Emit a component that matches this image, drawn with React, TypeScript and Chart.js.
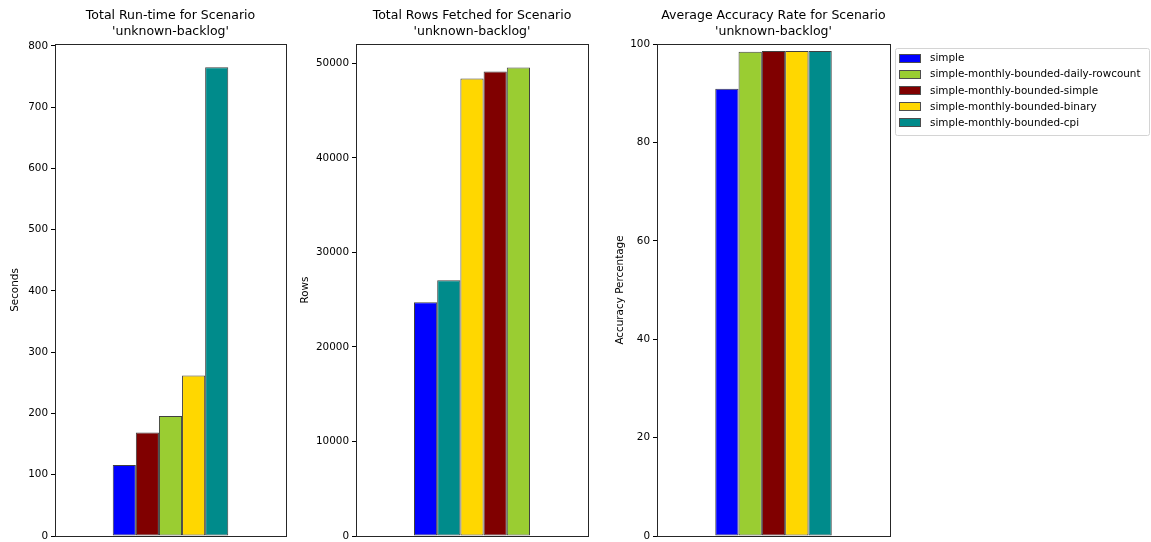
import React, { useEffect, useRef } from 'react';
import { Chart, registerables } from 'chart.js';

Chart.register(...registerables);

const FONT = '"DejaVu Sans", sans-serif';

// Legend/method names and colours
const methods = [
  'simple',
  'simple-monthly-bounded-daily-rowcount',
  'simple-monthly-bounded-simple',
  'simple-monthly-bounded-binary',
  'simple-monthly-bounded-cpi',
];
const methodColors = ['#0000ff', '#9acd32', '#800000', '#ffd700', '#008b8b'];

// Values per method (same order as methods)
const runtimeSeconds = [116, 196, 169, 262, 765];
const rowsFetched = [24740, 49580, 49150, 48410, 27060];
const accuracyPct = [90.9, 98.4, 98.6, 98.6, 98.6];

// Tick labels
const runtimeTicks = [0, 100, 200, 300, 400, 500, 600, 700, 800];
const rowsTicks = [0, 10000, 20000, 30000, 40000, 50000];
const accuracyTicks = [0, 20, 40, 60, 80, 100];

const scenario = "'unknown-backlog'";

const framePlugin = {
  id: 'frameBox',
  afterDatasetsDraw(chart: any) {
    const { ctx, chartArea: a } = chart;
    ctx.save();
    ctx.strokeStyle = 'rgba(0,0,0,0.85)';
    ctx.lineWidth = 1;
    ctx.strokeRect(
      Math.round(a.left) + 0.5,
      Math.round(a.top) + 0.5,
      Math.round(a.right) - Math.round(a.left),
      Math.round(a.bottom) - Math.round(a.top)
    );
    ctx.restore();
  },
};

const boxLegendPlugin = {
  id: 'boxLegend',
  afterDraw(chart: any) {
    const opts = chart.options.plugins.boxLegend;
    if (!opts || !opts.display) return;
    const { ctx, chartArea: a } = chart;
    const x0 = Math.round(a.right) + 5.5;
    const y0 = 48.5;
    const w = 254;
    const h = 87;
    const r = 2;
    ctx.save();
    ctx.beginPath();
    ctx.moveTo(x0 + r, y0);
    ctx.lineTo(x0 + w - r, y0);
    ctx.quadraticCurveTo(x0 + w, y0, x0 + w, y0 + r);
    ctx.lineTo(x0 + w, y0 + h - r);
    ctx.quadraticCurveTo(x0 + w, y0 + h, x0 + w - r, y0 + h);
    ctx.lineTo(x0 + r, y0 + h);
    ctx.quadraticCurveTo(x0, y0 + h, x0, y0 + h - r);
    ctx.lineTo(x0, y0 + r);
    ctx.quadraticCurveTo(x0, y0, x0 + r, y0);
    ctx.closePath();
    ctx.fillStyle = '#ffffff';
    ctx.fill();
    ctx.strokeStyle = '#d4d4d4';
    ctx.lineWidth = 1;
    ctx.stroke();
    ctx.font = `10.4px ${FONT}`;
    ctx.textBaseline = 'middle';
    ctx.textAlign = 'left';
    chart.data.datasets.forEach((ds: any, i: number) => {
      const cy = 58 + i * 16.2;
      const px = Math.round(a.right) + 9;
      ctx.fillStyle = ds.backgroundColor;
      ctx.fillRect(px, Math.round(cy - 4.5), 22, 9);
      ctx.strokeStyle = '#4d4d4d';
      ctx.strokeRect(px + 0.5, Math.round(cy - 4.5) + 0.5, 21, 8);
      ctx.fillStyle = '#000';
      ctx.fillText(ds.label, Math.round(a.right) + 40, cy + 0.5);
    });
    ctx.restore();
  },
};

type PanelProps = {
  left: number;
  width: number;
  title: string[];
  ylabel: string;
  values: number[];
  ticks: number[];
  yMax: number;
  axisWidth: number;
  ylabelPad: number;
  padRight: number;
  legend?: boolean;
};

function Panel(p: PanelProps) {
  const ref = useRef<HTMLCanvasElement>(null);
  useEffect(() => {
    if (!ref.current) return;
    const order = p.values.map((_, i) => i).sort((a, b) => p.values[a] - p.values[b]);
    const datasets = order.map((i) => ({
      label: methods[i],
      data: [p.values[i]],
      backgroundColor: methodColors[i],
      borderColor: '#404040',
      borderWidth: 1,
      borderSkipped: false,
      categoryPercentage: 0.5,
      barPercentage: 1,
    }));
    const chart = new Chart(ref.current, {
      type: 'bar',
      data: { labels: [''], datasets },
      plugins: [framePlugin, boxLegendPlugin],
      options: {
        animation: false,
        responsive: false,
        devicePixelRatio: 1,
        layout: { padding: { left: 0, right: p.padRight, top: 0, bottom: 6 } },
        plugins: {
          legend: { display: false },
          tooltip: { enabled: false },
          boxLegend: { display: !!p.legend },
          title: {
            display: true,
            text: p.title,
            fullSize: false,
            color: '#000',
            font: { family: FONT, size: 12.5, weight: 'normal', lineHeight: 1.28 },
            padding: { top: 8, bottom: 4 },
          },
        } as any,
        scales: {
          x: { display: false },
          y: {
            min: 0,
            max: p.yMax,
            afterBuildTicks: (s: any) => {
              s.ticks = p.ticks.map((v) => ({ value: v }));
            },
            ticks: {
              color: '#000',
              padding: 3,
              autoSkip: false,
              font: { family: FONT, size: 10.4 },
              callback: (v: any) => String(v),
            },
            grid: {
              drawOnChartArea: false,
              drawTicks: true,
              tickLength: 4,
              color: '#000',
            },
            border: { display: false },
            title: {
              display: true,
              text: p.ylabel,
              color: '#000',
              font: { family: FONT, size: 10.4 },
              padding: { top: p.ylabelPad, bottom: 0 },
            },
            afterFit: (s: any) => {
              s.width = p.axisWidth;
              s.paddingTop = 0;
              s.paddingBottom = 0;
            },
          } as any,
        },
      },
    });
    return () => chart.destroy();
  }, []);
  return (
    <div style={{ position: 'absolute', left: p.left, top: 0, width: p.width, height: 542 }}>
      <canvas ref={ref} width={p.width} height={542} style={{ display: 'block' }} />
    </div>
  );
}

export default function App() {
  return (
    <div
      style={{
        position: 'fixed',
        left: 0,
        top: 0,
        width: 1151,
        height: 542,
        background: '#ffffff',
        overflow: 'hidden',
      }}
    >
      <Panel
        left={0}
        width={300}
        title={['Total Run-time for Scenario', scenario]}
        ylabel="Seconds"
        values={runtimeSeconds}
        ticks={runtimeTicks}
        yMax={803}
        axisWidth={55}
        ylabelPad={9.5}
        padRight={14}
      />
      <Panel
        left={290}
        width={310}
        title={['Total Rows Fetched for Scenario', scenario]}
        ylabel="Rows"
        values={rowsFetched}
        ticks={rowsTicks}
        yMax={52060}
        axisWidth={66}
        ylabelPad={8.8}
        padRight={12}
      />
      <Panel
        left={600}
        width={551}
        title={['Average Accuracy Rate for Scenario', scenario]}
        ylabel="Accuracy Percentage"
        values={accuracyPct}
        ticks={accuracyTicks}
        yMax={100}
        axisWidth={57}
        ylabelPad={13.8}
        padRight={261}
        legend
      />
    </div>
  );
}
